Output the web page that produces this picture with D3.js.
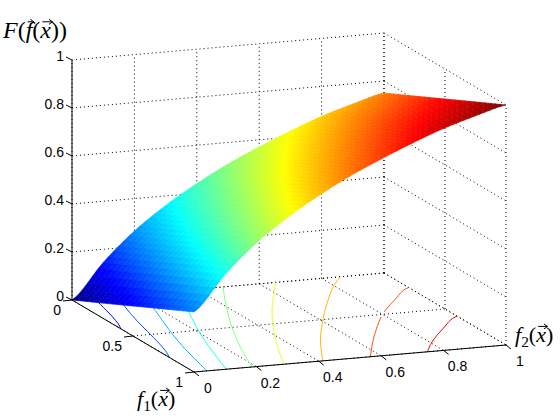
<!DOCTYPE html>
<html><head><meta charset="utf-8">
<script src="https://cdn.jsdelivr.net/npm/d3@7"></script>
<style>body{margin:0;background:#fff}</style>
</head><body><div id="wrapper"></div>
<script>
// grid of F values: rows f1, columns f2
const f1Values = [0, 0.25, 0.5, 0.75, 1];
const f2Values = [0, 0.1, 0.2, 0.3, 0.4, 0.5, 0.6, 0.7, 0.8, 0.9, 1];
const fGrid = [
    [0.000, 0.145, 0.265, 0.360, 0.440, 0.510, 0.570, 0.625, 0.675, 0.715, 0.750],
    [0.062, 0.207, 0.327, 0.422, 0.502, 0.572, 0.632, 0.687, 0.737, 0.777, 0.812],
    [0.125, 0.270, 0.390, 0.485, 0.565, 0.635, 0.695, 0.750, 0.800, 0.840, 0.875],
    [0.188, 0.333, 0.453, 0.548, 0.628, 0.698, 0.758, 0.813, 0.863, 0.903, 0.938],
    [0.250, 0.395, 0.515, 0.610, 0.690, 0.760, 0.820, 0.875, 0.925, 0.965, 1.000]
];
const contourLevels = [0.1, 0.2, 0.3, 0.4, 0.5, 0.6, 0.7, 0.8, 0.9];
const zTicks = [0, 0.2, 0.4, 0.6, 0.8, 1];
const f1Ticks = [0, 0.5, 1];
const f2Ticks = [0, 0.2, 0.4, 0.6, 0.8, 1];

const width = 560, height = 420;
const origin = [72, 300];
// each axis maps to a screen vector
const f1x = d3.scaleLinear().domain([0, 1]).range([0, 122]);
const f1y = d3.scaleLinear().domain([0, 1]).range([0, 72]);
const f2x = d3.scaleLinear().domain([0, 1]).range([0, 312]);
const f2y = d3.scaleLinear().domain([0, 1]).range([0, -27]);
const zy = d3.scaleLinear().domain([0, 1]).range([0, -240]);
const proj = (a, b, z) => [origin[0] + f1x(a) + f2x(b), origin[1] + f1y(a) + f2y(b) + zy(z)];

function jet(t) {
    t = Math.max(0, Math.min(1, t));
    const c = x => Math.max(0, Math.min(1, x));
    const r = c(1.5 - Math.abs(4 * t - 3));
    const g = c(1.5 - Math.abs(4 * t - 2));
    const b = c(1.5 - Math.abs(4 * t - 1));
    return d3.rgb(r * 255, g * 255, b * 255).toString();
}

const svg = d3.select("#wrapper").append("svg")
    .attr("width", width).attr("height", height)
    .style("font-family", "Liberation Sans, Arial, sans-serif");

const line = d3.line();
const grid = svg.append("g").attr("stroke", "#000").attr("stroke-width", 1)
    .attr("stroke-dasharray", "1,3").attr("fill", "none");

// back wall f1 = 0
f2Ticks.forEach(b => grid.append("path").attr("d", line([proj(0, b, 0), proj(0, b, 1)])));
zTicks.forEach(z => grid.append("path").attr("d", line([proj(0, 0, z), proj(0, 1, z)])));
// right wall f2 = 1
f1Ticks.forEach(a => grid.append("path").attr("d", line([proj(a, 1, 0), proj(a, 1, 1)])));
zTicks.forEach(z => grid.append("path").attr("d", line([proj(0, 1, z), proj(1, 1, z)])));
// floor
f1Ticks.forEach(a => grid.append("path").attr("d", line([proj(a, 0, 0), proj(a, 1, 0)])));
f2Ticks.forEach(b => grid.append("path").attr("d", line([proj(0, b, 0), proj(1, b, 0)])));

// smooth sampling: linear across f1 rows, Catmull-Rom along f2
function rowAt(row, v) {
    const n = row.length - 1;
    const j = Math.min(Math.floor(v), n - 1), t = v - j;
    const p0 = row[Math.max(j - 1, 0)], p1 = row[j], p2 = row[j + 1], p3 = row[Math.min(j + 2, n)];
    return 0.5 * (2 * p1 + (-p0 + p2) * t + (2 * p0 - 5 * p1 + 4 * p2 - p3) * t * t + (-p0 + 3 * p1 - 3 * p2 + p3) * t * t * t);
}
function sample(u, v) {
    const i = Math.min(Math.floor(u), f1Values.length - 2), du = u - i;
    return rowAt(fGrid[i], v) * (1 - du) + rowAt(fGrid[i + 1], v) * du;
}
const sub = 6;
const nu = (f1Values.length - 1) * sub, nv = (f2Values.length - 1) * sub;
const uA = d3.scaleLinear().domain([0, nu]).range([0, f1Values.length - 1]);
const vA = d3.scaleLinear().domain([0, nv]).range([0, f2Values.length - 1]);
const uF = d3.scaleLinear().domain([0, f1Values.length - 1]).range([0, 1]);
const vF = d3.scaleLinear().domain([0, f2Values.length - 1]).range([0, 1]);

// floor contours (marching squares on the fine grid)
const fine = [];
for (let p = 0; p <= nu; p++) { fine.push([]); for (let q = 0; q <= nv; q++) fine[p].push(sample(uA(p), vA(q))); }
const cg = svg.append("g").attr("fill", "none").attr("stroke-width", 1);
contourLevels.forEach(L => {
    const segs = [];
    for (let p = 0; p < nu; p++) for (let q = 0; q < nv; q++) {
        const corners = [[p, q], [p + 1, q], [p + 1, q + 1], [p, q + 1]];
        const pts = [];
        for (let k = 0; k < 4; k++) {
            const [a1, b1] = corners[k], [a2, b2] = corners[(k + 1) % 4];
            const v1 = fine[a1][b1], v2 = fine[a2][b2];
            if ((v1 - L) * (v2 - L) < 0) {
                const t = (L - v1) / (v2 - v1);
                pts.push([a1 + (a2 - a1) * t, b1 + (b2 - b1) * t]);
            }
        }
        if (pts.length >= 2) segs.push(pts.slice(0, 2));
    }
    segs.forEach(s => cg.append("path")
        .attr("stroke", jet(L))
        .attr("d", line(s.map(([p, q]) => proj(uF(uA(p)), vF(vA(q)), 0)))));
});

// surface quads, far to near
const quads = [];
for (let p = 0; p < nu; p++) for (let q = 0; q < nv; q++) {
    const cs = [[p, q], [p + 1, q], [p + 1, q + 1], [p, q + 1]];
    const pts = cs.map(([a, b]) => proj(uF(uA(a)), vF(vA(b)), fine[a][b]));
    const val = d3.mean(cs, ([a, b]) => fine[a][b]);
    const a0 = uF(uA(p + 0.5)), b0 = vF(vA(q + 0.5));
    quads.push({pts, val, depth: 72 * a0 - 27 * b0});
}
quads.sort((m, n) => m.depth - n.depth);
svg.append("g").selectAll("path").data(quads).join("path")
    .attr("d", d => line(d.pts) + "Z")
    .attr("fill", d => jet(d.val))
    .attr("stroke", d => jet(d.val)).attr("stroke-width", 0.6);

// solid axes
const ax = svg.append("g").attr("stroke", "#000").attr("fill", "none");
ax.append("path").attr("d", line([proj(0, 0, 0), proj(0, 0, 1)]));
ax.append("path").attr("d", line([proj(0, 0, 0), proj(1, 0, 0)]));
ax.append("path").attr("d", line([proj(1, 0, 0), proj(1, 1, 0)]));
zTicks.forEach(z => { const p = proj(0, 0, z); ax.append("path").attr("d", line([p, [p[0] - 6, p[1] - 3]])); });
f1Ticks.forEach(a => { const p = proj(a, 0, 0); ax.append("path").attr("d", line([p, [p[0] - 9, p[1] + 1]])); });
f2Ticks.forEach(b => { const p = proj(1, b, 0); ax.append("path").attr("d", line([p, [p[0] + 5, p[1] + 4]])); });

const lab = svg.append("g").style("font-size", "14px").attr("fill", "#000");
zTicks.forEach(z => { const p = proj(0, 0, z); lab.append("text").attr("x", p[0] - 8).attr("y", p[1] + 1).attr("text-anchor", "end").text(z); });
f1Ticks.forEach(a => { const p = proj(a, 0, 0); lab.append("text").attr("x", p[0] - 11).attr("y", p[1] + 15).attr("text-anchor", "end").text(a); });
f2Ticks.forEach(b => { const p = proj(1, b, 0); lab.append("text").attr("x", p[0] + 14).attr("y", p[1] + 21).attr("text-anchor", "middle").text(b); });

// axis titles; vector arrows drawn over the marked letters
const serif = "Liberation Serif, DejaVu Serif, serif";
function vecLabel(x, y, size, parts) {
    const t = svg.append("text").attr("x", x).attr("y", y).style("font-family", serif).style("font-size", size + "px");
    const arrows = [];
    let idx = 0;
    parts.forEach(([s, it, dy, small, vec]) => {
        t.append("tspan").text(s)
            .style("font-style", it ? "italic" : "normal")
            .attr("dy", dy || 0).style("font-size", (small ? size * 0.7 : size) + "px");
        if (vec) arrows.push(idx);
        idx += s.length;
    });
    arrows.forEach(i => {
        const e = t.node().getExtentOfChar(i);
        const x0 = e.x + 2, x1 = e.x + e.width + 1.5, ya = e.y + size * 0.2;
        svg.append("path").attr("fill", "none").attr("stroke", "#000").attr("stroke-width", 1)
            .attr("d", `M${x0},${ya}H${x1}M${x1 - 3.5},${ya - 2.5}L${x1},${ya}L${x1 - 3.5},${ya + 2.5}`);
    });
}
vecLabel(3, 38, 24, [["F", true], ["("], ["f", true, 0, false, true], ["("], ["x", true, 0, false, true], ["))"]]);
vecLabel(137, 406, 22, [["f", true], ["1", false, 5, true], ["(", false, -5], ["x", true, 0, false, true], [")"]]);
vecLabel(515, 342, 22, [["f", true], ["2", false, 5, true], ["(", false, -5], ["x", true, 0, false, true], [")"]]);
</script>
</body></html>
